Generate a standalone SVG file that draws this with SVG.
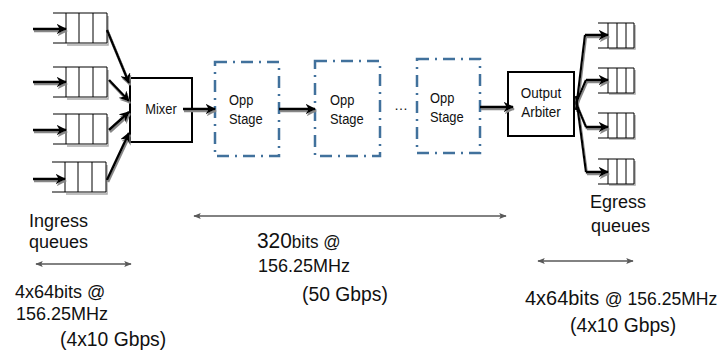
<svg xmlns="http://www.w3.org/2000/svg" width="728" height="356" viewBox="0 0 728 356">
<style>
text{font-family:"Liberation Sans",Arial,sans-serif;fill:#111}
.st{font-size:15px}
.q{fill:#fff;stroke:#000;stroke-width:1}
.qs{fill:none;stroke:#aaa;stroke-width:1.5}
.box{fill:#fff;stroke:#000;stroke-width:2}
.stage{fill:#fff;stroke:#41719c;stroke-width:2.5;stroke-dasharray:12 6 2 6}
.c{fill:none;stroke:#000;stroke-width:2.5;marker-end:url(#ah)}
.cl{fill:none;stroke:#000;stroke-width:2.2}
.dim{fill:none;stroke:#595959;stroke-width:1.5;marker-start:url(#gh);marker-end:url(#gh)}
</style>
<defs>
<marker id="ah" viewBox="0 0 10 10" refX="9" refY="5" markerWidth="4.2" markerHeight="4.2" orient="auto" markerUnits="strokeWidth">
<path d="M0,0 L10,5 L0,10 L3,5 z" fill="#000"/>
</marker>
<marker id="gh" viewBox="0 0 10 10" refX="9" refY="5" markerWidth="5" markerHeight="5" orient="auto-start-reverse" markerUnits="strokeWidth">
<path d="M0,1 L10,5 L0,9 L2,5 z" fill="#595959"/>
</marker>
<filter id="sh" x="-10%" y="-10%" width="130%" height="140%">
<feOffset in="SourceAlpha" dx="1" dy="2" result="o"/>
<feGaussianBlur in="o" stdDeviation="0.6" result="b"/>
<feFlood flood-color="#888" result="f"/>
<feComposite in="f" in2="b" operator="in" result="s"/>
<feMerge><feMergeNode in="s"/><feMergeNode in="SourceGraphic"/></feMerge>
</filter>
<g id="iq">
<path class="qs" d="M67,45 H108 V16"/>
<path class="q" d="M53,13 H107 V43 H53 M66,13 V43 M79,13 V43 M93,13 V43"/>
</g>
<g id="eq">
<path class="qs" d="M609,49 H635 V25"/>
<path class="q" d="M598,23 H634 V48 H598 M608,23 V48 M617,23 V48 M626,23 V48"/>
</g>
</defs>

<g id="ingress-queues">
<use href="#iq"/>
<use href="#iq" y="54"/>
<use href="#iq" y="101"/>
<use href="#iq" x="-1" y="149"/>
</g>

<g id="egress-queues">
<use href="#eq"/>
<use href="#eq" y="45"/>
<use href="#eq" y="90"/>
<use href="#eq" y="136"/>
</g>

<g id="mixer">
<rect class="box" x="130" y="78" width="62" height="64"/>
<text transform="translate(161,114) scale(0.92,1)" font-size="14" text-anchor="middle">Mixer</text>
</g>

<g id="stage1">
<rect class="stage" x="215" y="62" width="64" height="94"/>
<text class="st" transform="translate(229,105) scale(0.86,1)">Opp</text>
<text class="st" transform="translate(229,124) scale(0.86,1)">Stage</text>
</g>
<g id="stage2">
<rect class="stage" x="315" y="61" width="65" height="95"/>
<text class="st" transform="translate(330,105) scale(0.86,1)">Opp</text>
<text class="st" transform="translate(330,124) scale(0.86,1)">Stage</text>
</g>
<g id="ellipsis">
<text x="394" y="110" font-size="14">…</text>
</g>
<g id="stage3">
<rect class="stage" x="417" y="59" width="63" height="94"/>
<text class="st" transform="translate(430,103) scale(0.86,1)">Opp</text>
<text class="st" transform="translate(430,122) scale(0.86,1)">Stage</text>
</g>

<g id="output-arbiter">
<rect class="box" x="508" y="72" width="66" height="64"/>
<text transform="translate(541,98) scale(0.9,1)" font-size="15" text-anchor="middle">Output</text>
<text transform="translate(541,117) scale(0.9,1)" font-size="15" text-anchor="middle">Arbiter</text>
</g>

<g id="connectors" filter="url(#sh)">
<path class="c" d="M33,29 H66"/>
<path class="c" d="M33,82 H66"/>
<path class="c" d="M33,130 H66"/>
<path class="c" d="M33,179 H65"/>
<path class="c" d="M107,30 L129,83"/>
<path class="c" d="M109,80 L129,101"/>
<path class="c" d="M109,130 L129,112"/>
<path class="c" d="M107,180 L129,133"/>
<path class="c" d="M183,109 H215"/>
<path class="c" d="M279,109 H315"/>
<path class="c" d="M480,107 H513"/>
<path class="cl" d="M576,110 L585,35"/>
<path class="c" d="M585,35 H608"/>
<path class="cl" d="M576,103 L586,80"/>
<path class="c" d="M586,80 H608"/>
<path class="cl" d="M576,103 L586,127"/>
<path class="c" d="M586,127 H608"/>
<path class="cl" d="M576,96 L586,172"/>
<path class="c" d="M586,172 H608"/>
</g>

<g id="dimensions">
<path class="dim" d="M36,264 H131"/>
<path class="dim" d="M194,216 H506"/>
<path class="dim" d="M538,261 H633"/>
</g>

<g id="labels">
<text x="29" y="227" font-size="18">Ingress</text>
<text x="29" y="248" font-size="18">queues</text>
<text x="15" y="298" font-size="18">4x64bits @</text>
<text x="16" y="320" font-size="18">156.25MHz</text>
<text transform="translate(60,346) scale(0.92,1)" font-size="21">(4x10 Gbps)</text>
<text transform="translate(257,248) scale(0.95,1)"><tspan font-size="22">320</tspan><tspan font-size="18">bits @</tspan></text>
<text x="258" y="272" font-size="18">156.25MHz</text>
<text transform="translate(302,301) scale(0.92,1)" font-size="21">(50 Gbps)</text>
<text x="590" y="208" font-size="18">Egress</text>
<text x="591" y="232" font-size="18">queues</text>
<text transform="translate(525,305) scale(0.95,1)"><tspan font-size="21">4x64bits </tspan><tspan font-size="18.5">@ 156.25MHz</tspan></text>
<text transform="translate(570,332) scale(0.92,1)" font-size="21">(4x10 Gbps)</text>
</g>
</svg>
